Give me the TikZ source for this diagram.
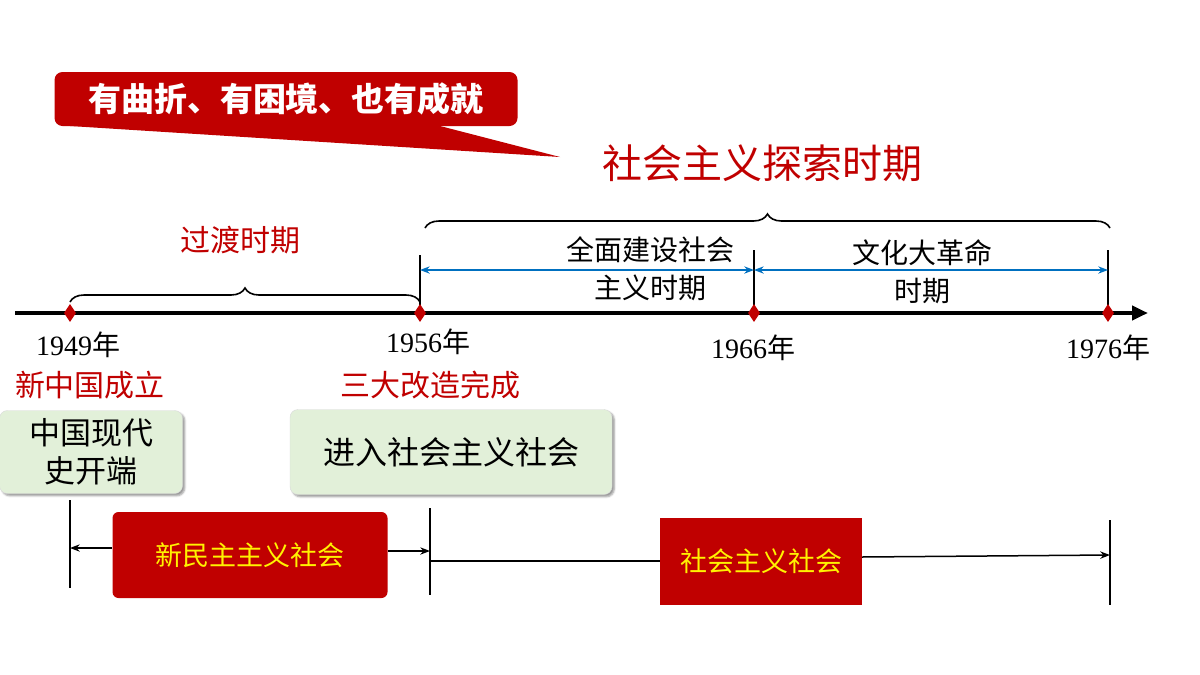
\documentclass[tikz,border=0pt]{standalone}
\usepackage{fontspec}
\setmainfont{Liberation Serif}
\newfontfamily\cjk{Noto Sans CJK SC}
\usetikzlibrary{arrows.meta,decorations.pathreplacing,shapes.geometric,shadows.blur}
\definecolor{hired}{RGB}{192,0,0}
\definecolor{boxgreen}{RGB}{226,240,217}
\definecolor{lineblue}{RGB}{0,112,192}
\tikzset{
  redtxt/.style={text=hired,font=\cjk\fontsize{30}{34}\selectfont},
  blktxt/.style={font=\cjk\fontsize{30}{36}\selectfont,align=center},
  yeartxt/.style={font=\fontsize{28}{30}\selectfont},
  dmd/.style={diamond,fill=hired,inner sep=0pt,minimum width=12pt,minimum height=18pt},
  greenbox/.style={draw=black!15,fill=boxgreen,rounded corners=8pt,blur shadow},
  redbox/.style={fill=hired,rounded corners=6pt,text=yellow,font=\cjk\fontsize{27}{30}\selectfont},
  brc/.style={decorate,decoration={brace,amplitude=14pt},line width=1.6pt},
  bline/.style={line width=1.5pt},
}
\begin{document}
\begin{tikzpicture}[x=1pt,y=-1pt]
	\useasboundingbox (0,0) rectangle (1200,675);
	% callout
	\fill[hired] (70,126) -- (560,157) -- (440,126) -- cycle;
	\node[fill=hired,rounded corners=8pt,minimum width=463pt,minimum height=54pt,text=white,font=\cjk\bfseries\fontsize{33}{36}\selectfont] (call) at (286,99) {有曲折、有困境、也有成就};
	\node[redtxt,font=\cjk\fontsize{40}{44}\selectfont] (explore) at (762,163) {社会主义探索时期};
	\node[redtxt] (trans) at (240,240) {过渡时期};
	% braces
	\draw[brc] (425,228) -- (1110,228);
	\draw[brc] (70,302) -- (420,302);
	% timeline
	\draw[line width=4.5pt,-{Triangle[length=16pt,width=14pt]}] (15,313) -- (1148,313);
	\draw[bline] (420,255) -- (420,313);
	\draw[bline] (754,250) -- (754,313);
	\draw[bline] (1108,250) -- (1108,313);
	\node[dmd] (d49) at (70,313) {};
	\node[dmd] (d56) at (420,313) {};
	\node[dmd] (d66) at (754,313) {};
	\node[dmd] (d76) at (1108,313) {};
	\draw[lineblue,bline,{Stealth}-{Stealth}] (420,270) -- (754,270);
	\draw[lineblue,bline,{Stealth}-{Stealth}] (754,270) -- (1108,270);
	\node[blktxt,font=\cjk\fontsize{28}{38}\selectfont] (p1) at (650,269) {全面建设社会\\主义时期};
	\node[blktxt,font=\cjk\fontsize{28}{38}\selectfont] (p2) at (922,272) {文化大革命\\时期};
	% years
	\node[yeartxt] (y49) at (78,345) {1949{\cjk 年}};
	\node[yeartxt] (y56) at (428,342) {1956{\cjk 年}};
	\node[yeartxt] (y66) at (753,348) {1966{\cjk 年}};
	\node[yeartxt] (y76) at (1108,348) {1976{\cjk 年}};
	\node[redtxt] (e49) at (90,385) {新中国成立};
	\node[redtxt] (e56) at (430,385) {三大改造完成};
	% green boxes
	\node[greenbox,blktxt,minimum width=183pt,minimum height=83pt,font=\cjk\fontsize{31}{38}\selectfont] (g1) at (91,452) {中国现代\\史开端};
	\node[greenbox,blktxt,minimum width=322pt,minimum height=85pt,font=\cjk\fontsize{32}{36}\selectfont] (g2) at (451,452) {进入社会主义社会};
	% bottom
	\draw[bline] (70,500) -- (70,588);
	\draw[bline] (430,508) -- (430,595);
	\draw[bline] (1110,520) -- (1110,605);
	\node[redbox,minimum width=275pt,minimum height=86pt] (nd) at (250,555) {新民主主义社会};
	\node[redbox,rounded corners=0pt,minimum width=202pt,minimum height=87pt] (sc) at (761,561) {社会主义社会};
	\draw[bline,{Stealth}-] (70,548) -- (nd.west |- 0,548);
	\draw[bline,-{Stealth}] (nd.east |- 0,551) -- (430,551);
	\draw[bline] (430,561) -- (sc.west);
	\draw[bline,-{Stealth}] (sc.east |- 0,557) -- (1110,555);
\end{tikzpicture}
\end{document}
